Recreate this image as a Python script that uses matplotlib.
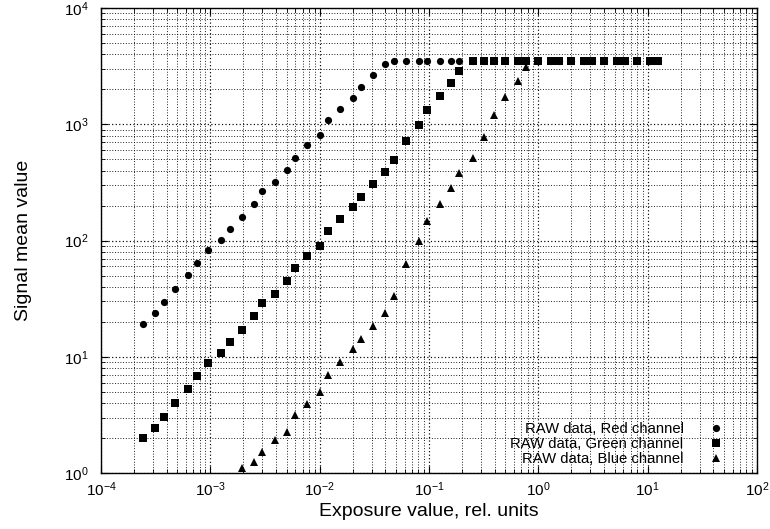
import matplotlib
matplotlib.use("Agg")
import matplotlib.pyplot as plt
from matplotlib.ticker import LogLocator, NullFormatter

plt.rcParams['font.family'] = ['Liberation Sans', 'DejaVu Sans']
plt.rcParams['mathtext.default'] = 'regular'

exposure = [2.4e-4, 3.1e-4, 3.75e-4, 4.8e-4, 6.25e-4, 7.5e-4, 9.6e-4, 1.25e-3,
            1.5e-3, 1.95e-3, 2.5e-3, 3.0e-3, 3.9e-3, 5.0e-3, 6.0e-3, 7.7e-3,
            1.0e-2, 1.2e-2, 1.55e-2, 2.0e-2, 2.4e-2, 3.1e-2, 4.0e-2, 4.8e-2,
            6.2e-2, 8.1e-2, 9.6e-2, 0.125, 0.16, 0.19, 0.25, 0.32,
            0.39, 0.50, 0.65, 0.77, 1.0, 1.3, 1.55, 2.0,
            2.6, 3.1, 4.0, 5.2, 6.2, 8.0, 10.4, 12.4]

red = [19.1, 23.8, 29.5, 38.2, 50.7, 64.3, 82.7, 101, 125, 160, 206, 268,
       322, 403, 514, 661, 806, 1085, 1365, 1697, 2084, 2644, 3310,
       3500, 3500, 3500, 3500, 3500, 3500, 3500, 3500, 3500, 3500, 3500,
       3500, 3500, 3500, 3500, 3500, 3500, 3500, 3500, 3500, 3500, 3500,
       3500, 3500, 3500]

green = [2.0, 2.44, 3.03, 4.0, 5.28, 6.82, 8.83, 10.8, 13.4, 17.2, 22.4, 28.9,
         35.0, 44.8, 57.9, 73.4, 89.5, 120, 153, 194, 236, 306, 388, 494,
         716, 982, 1322, 1744, 2256, 2879,
         3500, 3500, 3500, 3500, 3500, 3500, 3500, 3500, 3500, 3500, 3500,
         3500, 3500, 3500, 3500, 3500, 3500, 3500]

exposure_blue = exposure[9:]
blue = [1.10, 1.26, 1.53, 1.93, 2.28, 3.17, 3.92, 5.02, 7.0, 9.06, 11.65, 14.4,
        18.5, 24.1, 33.5, 63.0, 100, 148, 207, 284, 380, 514, 784, 1212,
        1730, 2348, 3097,
        3500, 3500, 3500, 3500, 3500, 3500, 3500, 3500, 3500, 3500, 3500, 3500]

labels = ["RAW data, Red channel", "RAW data, Green channel", "RAW data, Blue channel"]

fig = plt.figure(figsize=(7.7, 5.29), dpi=100)
ax = fig.add_axes([101/770, 1 - 473.3/529, 656/770, 465.3/529])

ax.plot(exposure, red, linestyle='none', marker='o', ms=5.2, mew=0, color='black', label=labels[0])
ax.plot(exposure, green, linestyle='none', marker='s', ms=6.0, mew=0, color='black', label=labels[1])
ax.plot(exposure_blue, blue, linestyle='none', marker='^', ms=5.4, mew=0, color='black', label=labels[2])

ax.set_xscale('log')
ax.set_yscale('log')
ax.set_xlim(1e-4, 1e2)
ax.set_ylim(1e0, 1e4)

for axis in (ax.xaxis, ax.yaxis):
    axis.set_major_locator(LogLocator(base=10, numticks=20))
    axis.set_minor_locator(LogLocator(base=10, subs=range(2, 10), numticks=20))
    axis.set_minor_formatter(NullFormatter())

ax.grid(which='major', color='black', linestyle=(0, (1, 2)), linewidth=0.85)
ax.grid(which='minor', color='black', linestyle=(0, (1, 2)), linewidth=0.65)
ax.set_axisbelow(True)

ax.tick_params(which='both', direction='in', top=True, right=True, labelsize=11, color='black')
ax.tick_params(which='major', length=5, width=0.8)
ax.tick_params(which='minor', length=3, width=0.6)
ax.tick_params(axis='x', which='major', pad=5)
ax.tick_params(axis='y', which='major', pad=9)

for s in ax.spines.values():
    s.set_linewidth(1.0)

ax.set_xlabel("Exposure value, rel. units", fontsize=14, labelpad=3)
ax.set_ylabel("Signal mean value", fontsize=14, labelpad=23)

ax.legend(loc='lower right', bbox_to_anchor=(1 - 11/656, -8/465.3), markerfirst=False,
          frameon=False, fontsize=10.7, numpoints=1, handlelength=2.0, handletextpad=1.2,
          labelspacing=0.08, borderaxespad=0, borderpad=1.0)

fig.savefig("out.png", dpi=100)
